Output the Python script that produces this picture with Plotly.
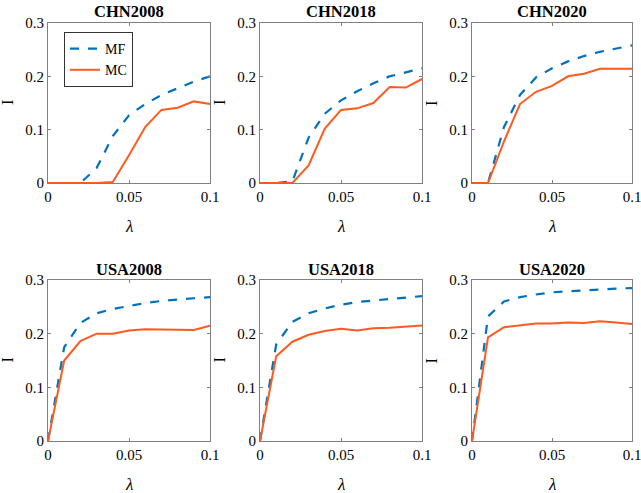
import plotly.graph_objects as go

lam = [0, 0.01, 0.02, 0.03, 0.04, 0.05, 0.06, 0.07, 0.08, 0.09, 0.1]
titles = ["CHN2008", "CHN2018", "CHN2020", "USA2008", "USA2018", "USA2020"]

mf_chn2008 = [0, 0, 0, 0.028, 0.088, 0.127, 0.148, 0.165, 0.178, 0.19, 0.2]
mc_chn2008 = [0, 0, 0, 0, 0.002, 0.052, 0.105, 0.137, 0.141, 0.153, 0.148]
mf_chn2018 = [0, 0, 0.003, 0.085, 0.13, 0.155, 0.172, 0.187, 0.2, 0.207, 0.215]
mc_chn2018 = [0, 0, 0, 0.033, 0.102, 0.137, 0.14, 0.15, 0.18, 0.179, 0.195]
mf_chn2020 = [0, 0, 0.105, 0.165, 0.198, 0.215, 0.228, 0.238, 0.246, 0.252, 0.258]
mc_chn2020 = [0, 0, 0.078, 0.148, 0.171, 0.182, 0.2, 0.205, 0.214, 0.214, 0.214]
mf_usa2008 = [0, 0.175, 0.22, 0.238, 0.246, 0.252, 0.257, 0.261, 0.264, 0.266, 0.268]
mc_usa2008 = [0, 0.15, 0.186, 0.2, 0.2, 0.206, 0.208, 0.208, 0.208, 0.207, 0.215]
mf_usa2018 = [0, 0.18, 0.222, 0.238, 0.247, 0.254, 0.259, 0.262, 0.265, 0.268, 0.27]
mc_usa2018 = [0, 0.158, 0.185, 0.198, 0.205, 0.209, 0.206, 0.21, 0.211, 0.213, 0.215]
mf_usa2020 = [0, 0.232, 0.26, 0.268, 0.273, 0.277, 0.279, 0.281, 0.283, 0.284, 0.285]
mc_usa2020 = [0, 0.193, 0.212, 0.216, 0.219, 0.219, 0.221, 0.22, 0.223, 0.221, 0.218]

mf_all = [mf_chn2008, mf_chn2018, mf_chn2020, mf_usa2008, mf_usa2018, mf_usa2020]
mc_all = [mc_chn2008, mc_chn2018, mc_chn2020, mc_usa2008, mc_usa2018, mc_usa2020]

W, H = 641, 493
xdom_px = [(48, 210), (260, 422), (472, 632)]
ydom_px = [(23, 183), (280, 441)]

BLUE = "#0072BD"
ORANGE = "#FF5A1F"
FONT = "Liberation Serif"

fig = go.Figure()
annotations = []
layout = {}
for i in range(6):
    r, c = divmod(i, 3)
    n = i + 1
    xa = "x" if n == 1 else f"x{n}"
    ya = "y" if n == 1 else f"y{n}"
    x0, x1 = xdom_px[c]
    y0, y1 = ydom_px[r]
    fig.add_trace(go.Scatter(x=lam, y=mf_all[i], mode="lines", name="MF",
                             line=dict(color=BLUE, width=2.2, dash="dash"),
                             xaxis=xa, yaxis=ya, showlegend=(i == 0)))
    fig.add_trace(go.Scatter(x=lam, y=mc_all[i], mode="lines", name="MC",
                             line=dict(color=ORANGE, width=2),
                             xaxis=xa, yaxis=ya, showlegend=(i == 0)))
    axcommon = dict(showline=True, linecolor="#808080", linewidth=1, mirror="ticks",
                    ticks="inside", ticklen=3, tickcolor="#808080", showgrid=False,
                    zeroline=False, automargin=False, ticklabeloverflow="allow",
                    tickfont=dict(family=FONT, size=15, color="black"))
    layout["xaxis" if n == 1 else f"xaxis{n}"] = dict(
        domain=[x0 / W, x1 / W], range=[0, 0.1], tickvals=[0, 0.05, 0.1],
        ticktext=["0", "0.05", "0.1"], anchor=ya, **axcommon)
    layout["yaxis" if n == 1 else f"yaxis{n}"] = dict(
        domain=[1 - y1 / H, 1 - y0 / H], range=[0, 0.3], tickvals=[0, 0.1, 0.2, 0.3],
        ticktext=["0", "0.1", "0.2", "0.3"], anchor=xa, **axcommon)
    annotations.append(dict(text=f"<b>{titles[i]}</b>", x=(x0 + x1) / 2 / W, y=1 - (y0 - 11) / H,
                            xref="paper", yref="paper", showarrow=False,
                            font=dict(family=FONT, size=16.5, color="black"),
                            xanchor="center", yanchor="middle"))
    annotations.append(dict(text="<i>λ</i>", x=(x0 + x1) / 2 / W, y=1 - (y1 + 43) / H,
                            xref="paper", yref="paper", showarrow=False,
                            font=dict(family=FONT, size=17, color="black"),
                            xanchor="center", yanchor="middle"))
    annotations.append(dict(text="I", x=(x0 - 41) / W, y=1 - (y0 + y1) / 2 / H,
                            xref="paper", yref="paper", showarrow=False, textangle=-90,
                            font=dict(family=FONT, size=16, color="black"),
                            xanchor="center", yanchor="middle"))

fig.update_layout(**layout)
fig.update_layout(
    width=W, height=H, margin=dict(l=0, r=0, t=0, b=0, autoexpand=False),
    paper_bgcolor="white", plot_bgcolor="white",
    font=dict(family=FONT, size=15, color="black"),
    annotations=annotations,
    legend=dict(x=64 / W, y=1 - 32 / H, xanchor="left", yanchor="top",
                bordercolor="#333333", borderwidth=1, bgcolor="white",
                font=dict(family=FONT, size=14, color="black"),
                tracegroupgap=0, itemwidth=30),
)
fig.write_html("out.html", config={"displayModeBar": False},
               post_script="document.body.style.margin='0';document.body.style.overflow='hidden';")
